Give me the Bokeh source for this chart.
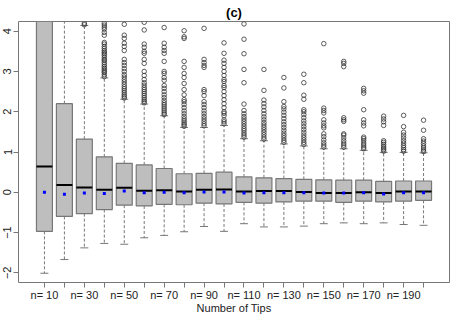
from bokeh.plotting import figure
from bokeh.models import FixedTicker, Range1d, ColumnDataSource
from bokeh.embed import file_html
from bokeh.resources import INLINE

groups = [f"n= {n}" for n in range(10, 201, 10)]
q1 = [-0.97, -0.60, -0.53, -0.43, -0.32, -0.34, -0.30, -0.31, -0.27, -0.29,
      -0.25, -0.27, -0.24, -0.22, -0.22, -0.25, -0.22, -0.24, -0.22, -0.20]
q3 = [5.5, 2.20, 1.32, 0.88, 0.72, 0.68, 0.59, 0.46, 0.47, 0.50,
      0.38, 0.36, 0.34, 0.32, 0.31, 0.30, 0.30, 0.27, 0.28, 0.28]
medians = [0.64, 0.18, 0.12, 0.065, 0.11, 0.04, 0.05, 0.02, 0.06, 0.07,
           0.02, 0.03, 0.03, 0.01, -0.02, -0.02, 0.0, -0.02, 0.02, 0.02]
means = [0.0, -0.05, -0.02, -0.03, 0.03, -0.01, 0.0, -0.01, 0.01, 0.01,
         -0.02, -0.01, -0.01, -0.01, -0.02, -0.02, -0.01, -0.04, -0.01, -0.01]
lower = [-2.01, -1.67, -1.38, -1.27, -1.29, -1.13, -1.07, -0.98, -0.85, -0.97,
         -0.78, -0.86, -0.86, -0.84, -0.78, -0.76, -0.78, -0.76, -0.80, -0.82]
upper = [9.0, 5.0, 4.14, 2.84, 2.31, 2.19, 1.90, 1.61, 1.61, 1.66,
         1.33, 1.28, 1.20, 1.15, 1.08, 1.08, 1.04, 0.99, 0.99, 0.98]

outliers = {
    3: [4.16, 4.2],
    4: [2.87, 2.92, 2.97, 3.0, 3.04, 3.08, 3.12, 3.17, 3.22, 3.27, 3.3, 3.35, 3.4, 3.44,
        3.48, 3.52, 3.57, 3.62, 3.68, 3.72, 3.9, 3.97, 4.05, 4.1, 4.15, 4.2],
    5: [2.34, 2.38, 2.42, 2.47, 2.52, 2.57, 2.62, 2.68, 2.74, 2.8, 2.86, 2.92, 3.0, 3.07,
        3.15, 3.22, 3.3, 3.52, 3.62, 3.7, 3.82, 3.9, 4.17],
    6: [2.22, 2.26, 2.3, 2.35, 2.4, 2.45, 2.5, 2.55, 2.6, 2.66, 2.72, 2.8, 2.9, 3.0, 3.2,
        3.3, 3.45, 3.5, 3.6, 3.68, 4.03, 4.22],
    7: [1.93, 1.97, 2.02, 2.07, 2.12, 2.17, 2.22, 2.28, 2.35, 2.42, 2.5, 2.58, 2.65, 2.78,
        2.85, 2.95, 3.0, 3.25, 3.45, 3.52, 3.6, 3.7, 4.09],
    8: [1.64, 1.68, 1.72, 1.77, 1.82, 1.88, 1.95, 2.02, 2.1, 2.18, 2.25, 2.3, 2.42, 2.55,
        2.7, 2.85, 2.95, 3.1, 3.25, 3.82, 3.86, 4.01],
    9: [1.65, 1.7, 1.76, 1.82, 1.88, 1.95, 2.02, 2.1, 2.18, 2.25, 2.4, 2.5, 2.55, 3.1,
        3.15, 3.22, 3.3, 4.07],
    10: [1.7, 1.75, 1.8, 1.9, 1.96, 2.0, 2.1, 2.2, 2.3, 2.4, 2.5, 2.6, 2.65, 2.75, 2.8,
         2.9, 3.0, 3.1, 3.2, 3.28, 3.45, 3.71],
    11: [1.37, 1.42, 1.47, 1.53, 1.58, 1.64, 1.7, 1.76, 1.82, 1.88, 1.95, 2.03, 2.19,
         2.72, 3.05, 3.44, 3.80, 4.18],
    12: [1.32, 1.37, 1.43, 1.49, 1.55, 1.61, 1.67, 1.73, 1.8, 1.87, 1.95, 2.03, 2.12,
         2.2, 2.29, 2.53, 3.05],
    13: [1.24, 1.29, 1.35, 1.41, 1.47, 1.54, 1.61, 1.68, 1.75, 1.83, 1.91, 1.99, 2.07,
         2.13, 2.25, 2.59, 2.85],
    14: [1.19, 1.24, 1.3, 1.36, 1.42, 1.49, 1.56, 1.63, 1.7, 1.77, 1.85, 1.93, 2.0, 2.05,
         2.31, 2.41, 2.72, 2.93],
    15: [1.12, 1.17, 1.23, 1.3, 1.38, 1.45, 1.6, 1.65, 1.72, 1.8, 1.97, 2.03, 2.09, 3.69],
    16: [1.12, 1.17, 1.22, 1.28, 1.35, 1.42, 1.45, 1.76, 1.8, 1.85, 3.12, 3.2, 3.25],
    17: [1.08, 1.12, 1.17, 1.22, 1.28, 1.33, 1.37, 1.65, 1.72, 1.8, 2.05, 2.46, 2.52, 2.58],
    18: [1.02, 1.06, 1.1, 1.14, 1.19, 1.24, 1.28, 1.66, 1.75, 1.82, 1.89],
    19: [1.02, 1.06, 1.11, 1.16, 1.22, 1.28, 1.35, 1.42, 1.49, 1.63, 1.91],
    20: [1.01, 1.05, 1.1, 1.15, 1.21, 1.27, 1.33, 1.54, 1.79],
}

y_ticks = [-2, -1, 0, 1, 2, 3, 4]

pos = list(range(1, len(groups) + 1))
half = 0.4
cap = 0.2
src = ColumnDataSource(dict(
    x=pos, q1=q1, q3=q3, med=medians, mean=means, lo=lower, hi=upper,
    xl=[v - half for v in pos], xr=[v + half for v in pos],
    cl=[v - cap for v in pos], cr=[v + cap for v in pos],
))
ox, oy = [], []
for g, vals in outliers.items():
    ox += [g] * len(vals)
    oy += vals

FONT = "Liberation Sans"
p = figure(width=450, height=316, output_backend="svg", toolbar_location=None,
           x_range=Range1d(-0.3, 21.3), y_range=Range1d(-2.24, 4.24),
           title="(c)", min_border_left=0, min_border_right=1,
           min_border_top=0, min_border_bottom=0)
p.title.align = "center"
p.title.text_font = FONT
p.title.text_font_size = "13px"
p.title.text_font_style = "bold"
p.title.text_color = "#000000"
p.title.offset = 3
p.title.standoff = 4

p.grid.visible = False
p.background_fill_color = "white"
p.border_fill_color = "white"
p.outline_line_color = "#777777"
p.outline_line_width = 1

grey = "#777777"
# whiskers
p.segment(x0="x", y0="q3", x1="x", y1="hi", source=src, line_color=grey,
          line_dash="3 2", line_width=1)
p.segment(x0="x", y0="q1", x1="x", y1="lo", source=src, line_color=grey,
          line_dash="3 2", line_width=1)
# caps
p.segment(x0="cl", y0="hi", x1="cr", y1="hi", source=src, line_color=grey, line_width=1)
p.segment(x0="cl", y0="lo", x1="cr", y1="lo", source=src, line_color=grey, line_width=1)
# boxes
p.vbar(x="x", width=0.8, bottom="q1", top="q3", source=src,
       fill_color="#BEBEBE", line_color=grey, line_width=1.2)
p.segment(x0="xl", y0="med", x1="xr", y1="med", source=src, line_color="black",
          line_width=2)
# outliers
p.scatter(ox, oy, marker="circle", size=4.5, fill_color=None,
          line_color="#333333", line_width=0.8)
# means
p.scatter(x="x", y="mean", source=src, marker="square", size=3,
          fill_color="blue", line_color=None)

p.xaxis.ticker = FixedTicker(ticks=pos)
p.xaxis.major_label_overrides = {v: (groups[v - 1] if v % 2 == 1 else "") for v in pos}
p.yaxis.ticker = FixedTicker(ticks=y_ticks)
p.yaxis.major_label_orientation = "vertical"
p.xaxis.axis_label = "Number of Tips"
for ax in (p.xaxis[0], p.yaxis[0]):
    ax.axis_line_color = None
    ax.major_tick_line_color = grey
    ax.major_tick_in = 0
    ax.major_tick_out = 5
    ax.minor_tick_line_color = None
    ax.major_label_text_font = FONT
    ax.major_label_text_font_size = "11px"
    ax.major_label_text_color = "#222222"
    ax.major_label_standoff = 2
    ax.axis_label_text_font = FONT
    ax.axis_label_text_font_size = "11px"
    ax.axis_label_text_font_style = "normal"
    ax.axis_label_text_color = "#222222"
    ax.axis_label_standoff = 1
p.xaxis[0].major_label_standoff = 1
p.xaxis[0].axis_label_standoff = -2

open("out.html", "w").write(file_html(p, INLINE))
